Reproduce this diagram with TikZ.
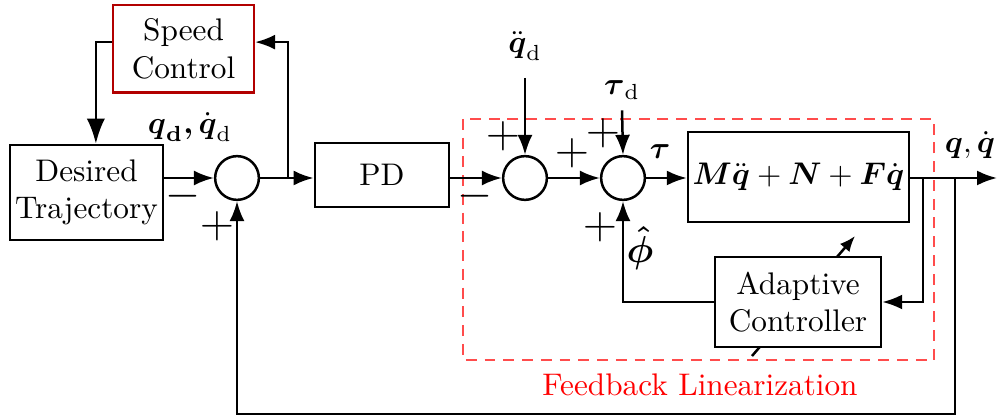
\documentclass[tikz,border=0pt]{standalone}
\usepackage{amsmath,amssymb}
\usepackage{tikz}
\usetikzlibrary{arrows.meta,positioning,backgrounds}

\begin{document}
\begin{tikzpicture}[
      x=0.32pt, y=-0.32pt,         % one unit per reference pixel
      sig/.style={draw, -{Latex[length=6.4pt,width=4.8pt]}, thick},
      block/.style={
          rectangle, draw, thick, fill=white,
          align=center,
          inner sep=1pt
        },
      sumnode/.style={circle, draw, thick, fill=white, minimum size=14pt, inner sep=0pt},
      sign/.style={inner sep=0pt, font=\Large},
      frame/.style={draw=red!70, semithick, dash pattern=on 3.5pt off 2.5pt},
    ]
    \useasboundingbox (0,0) rectangle (998,418);

    % blocks
    \node[block, draw=red!70!black, minimum width=45pt, minimum height=28pt] (speed) at (183.5,49) {Speed\\Control};
    \node[block, minimum width=49pt, minimum height=30.4pt] (traj) at (86.5,192.5) {Desired\\Trajectory};
    \node[sumnode] (sum1) at (237,178) {};
    \node[block, minimum width=43pt, minimum height=20.5pt] (pd) at (382,175) {PD};
    \node[sumnode] (sum2) at (525,178) {};
    \node[sumnode] (sum3) at (623,178) {};
    \node[block, minimum width=70.7pt, minimum height=28.8pt] (plant) at (798.5,177)
      {$\boldsymbol{M}\ddot{\boldsymbol{q}}+\boldsymbol{N}+\boldsymbol{F}\dot{\boldsymbol{q}}$};
    \node[block, minimum width=53.1pt, minimum height=28.8pt] (adapt) at (798,302) {Adaptive\\Controller};

    % feedback linearization frame
    \draw[frame] (463,119) rectangle (934,360);
    \node[text=red] (fbl) at (700,385) {Feedback Linearization};

    % inputs and labels
    \node (qdd) at (525,46) {$\ddot{\boldsymbol{q}}_{\mathrm{d}}$};
    \node (taud) at (622,90) {$\boldsymbol{\tau}_{\mathrm{d}}$};
    \node (qd) at (190,127) {$\boldsymbol{q}_{\mathbf{d}}\boldsymbol{,}\,\dot{\boldsymbol{q}}_{\mathrm{d}}$};
    \node (tau) at (660,152) {$\boldsymbol{\tau}$};
    \node (phi) at (640,248) {\large$\boldsymbol{\hat{\phi}}$};
    \node (qout) at (970,145) {$\boldsymbol{q},\dot{\boldsymbol{q}}$};

    % signs
    \node[sign] (m1) at (183,196) {$-$};
    \node[sign] (p1) at (217,226) {$+$};
    \node[sign] (m2) at (475,196) {$-$};
    \node[sign] (p2) at (503,136) {$+$};
    \node[sign] (p3) at (572,153) {$+$};
    \node[sign] (p4) at (603,133) {$+$};
    \node[sign] (p5) at (600,227) {$+$};

    % junctions and free ends
    \coordinate (jspd) at (288,178);
    \coordinate (jad) at (923,178);
    \coordinate (jfb) at (955,178);
    \coordinate (fbb) at (955,414);
    \coordinate (out) at (997,178);
    \coordinate (adpA) at (752,356);
    \coordinate (adpB) at (855,236);

    % connectors
    \draw[sig] (traj.east |- sum1) -- (sum1.west);
    \draw[sig] (sum1.east) -- (pd.west |- sum1);
    \draw[sig] (jspd) |- ([yshift=2.2pt]speed.east);
    \draw[sig, -{Latex[length=8pt,width=5.8pt]}] ([yshift=2.2pt]speed.west) -| ([xshift=3pt]traj.north);
    \draw[sig] (pd.east |- sum2) -- (sum2.west);
    \draw[sig] (sum2.east) -- (sum3.west);
    \draw[sig] (sum3.east) -- (plant.west |- sum3);
    \draw[sig] ([yshift=-2pt]qdd.south) -- (sum2.north);
    \draw[sig] (taud.south) -- (sum3.north);
    \draw[sig] (plant.east |- out) -- (out);
    \draw[sig] (jad) |- (adapt.east);
    \draw[sig] (jfb) -- (fbb) -| (sum1.south);
    \draw[sig] (adapt.west) -| (sum3.south);
    \begin{scope}[on background layer]
      \draw[sig, -{Latex[length=5pt,width=4pt]}] (adpA) -- (adpB); % adaptation arrow behind the controller
    \end{scope}
  \end{tikzpicture}
\end{document}
